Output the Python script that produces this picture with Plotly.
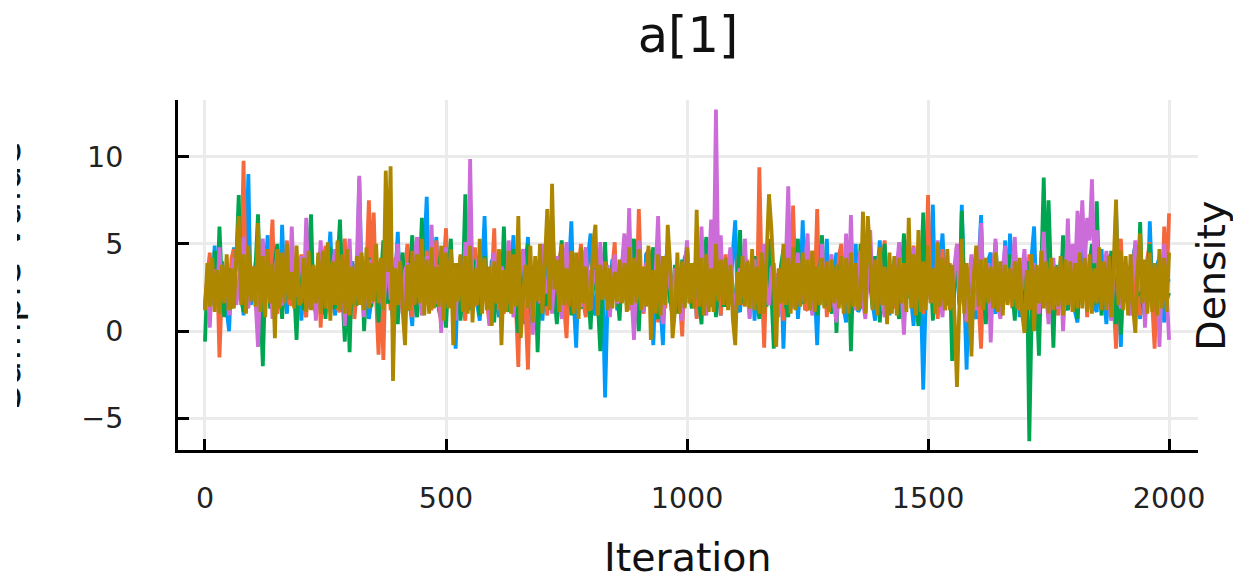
import plotly.graph_objects as go

iteration_step = 5

chain_blue = [
1.3,2.9,3.8,1.6,4.9,2.2,2.4,4.0,3.1,1.2,0.0,3.4,4.8,1.9,2.0,3.7,0.9,4.2,9.0,1.5,2.6,3.9,4.5,1.1,1.7,3.3,5.5,2.0,2.2,4.1,3.7,1.4,6.1,2.5,1.0,3.8,4.4,1.8,2.8,3.5,
0.6,3.0,3.6,1.3,5.0,2.7,1.5,4.3,4.1,1.0,2.3,3.6,5.7,1.9,0.9,3.1,3.4,1.2,4.6,2.4,1.8,4.0,3.3,1.5,8.7,2.8,2.1,3.9,0.7,1.7,4.2,3.0,2.9,1.1,1.3,4.4,3.9,2.0,0.6,3.2,
5.7,1.4,2.1,3.8,4.4,1.6,0.3,3.5,3.7,2.2,1.5,4.5,7.7,1.8,2.4,3.6,5.4,1.2,0.7,4.0,3.2,2.0,4.8,1.3,-1.0,3.3,2.5,1.1,3.9,4.2,1.2,2.7,4.7,1.5,0.6,3.4,6.6,1.9,2.3,4.1,
3.5,1.6,0.8,3.0,4.4,2.1,1.9,3.7,5.5,1.3,2.7,4.3,0.4,3.1,5.4,1.4,1.6,3.9,3.8,2.2,0.6,2.9,4.2,1.5,6.7,3.3,2.0,4.0,3.4,1.0,1.1,3.6,6.3,1.7,-0.95,3.2,4.3,1.8,2.2,4.4,
5.6,1.3,0.9,3.5,3.6,2.4,-3.8,1.6,2.7,4.1,4.0,1.2,1.5,3.8,5.0,2.3,2.1,3.4,0.4,2.8,3.8,1.1,1.3,4.4,4.6,2.0,-0.8,3.0,2.9,1.4,-0.8,3.7,4.9,1.9,0.7,3.2,3.3,1.2,1.6,4.2,
4.6,2.2,2.0,3.5,0.8,3.1,4.9,1.5,3.0,1.8,1.4,4.1,5.3,2.6,0.9,3.8,3.7,1.7,2.4,4.5,6.35,1.3,1.1,3.4,4.3,2.1,2.6,3.9,0.6,3.0,3.9,1.4,1.7,4.3,5.1,2.0,2.8,1.2,1.0,3.7,
-1.0,3.1,4.8,1.6,2.1,3.8,0.7,2.5,6.35,1.2,1.8,4.0,4.0,2.3,-0.8,3.4,3.3,1.9,5.3,1.5,1.2,3.6,4.5,2.2,2.3,1.3,0.5,3.9,3.6,2.4,5.0,1.1,1.4,3.3,2.9,4.2,4.7,1.6,0.6,3.5,
5.2,2.0,2.2,3.7,0.9,3.0,4.1,1.4,3.0,2.5,1.6,4.4,5.3,1.8,0.3,3.2,4.4,2.1,-3.35,1.7,2.4,3.6,7.25,1.3,1.1,4.0,5.6,2.6,2.0,3.3,0.6,2.8,3.7,1.5,7.25,2.3,-2.2,3.5,3.2,1.2,
0.7,3.8,6.65,1.9,2.5,4.1,4.5,1.4,1.0,3.4,3.6,2.2,5.2,1.6,5.6,2.7,1.9,3.9,0.8,3.1,4.2,1.7,2.6,4.3,6.0,1.3,0.4,3.5,3.4,2.0,4.8,1.5,1.5,3.6,2.7,4.0,4.4,1.8,1.2,3.2,
3.8,1.1,0.5,3.3,5.0,2.4,2.3,3.7,3.6,1.4,1.1,4.2,4.7,2.0,0.4,3.0,2.9,1.5,7.0,2.6,-0.9,3.4,3.5,1.7,1.8,4.1,4.9,2.2,0.7,3.6,3.1,1.3,6.3,2.5,1.4,3.8,4.2,1.9,0.5,2.7,
3.0]

chain_orange = [
1.6,3.2,4.5,1.9,2.8,3.9,-1.5,2.4,3.6,1.3,1.2,4.2,4.7,2.0,2.5,3.4,9.76,1.7,1.9,3.7,3.4,1.5,0.9,3.0,4.8,2.6,2.3,4.0,6.4,1.2,1.0,3.5,3.7,2.1,5.2,1.6,1.5,3.8,3.1,2.3,
4.4,1.4,0.8,3.3,3.0,2.0,1.6,4.1,0.2,3.6,4.9,1.8,2.1,3.2,3.8,1.3,1.1,4.3,5.3,2.5,2.6,3.7,0.7,2.2,4.0,1.5,2.2,3.5,7.5,3.1,6.8,1.9,-1.35,2.7,-1.65,3.9,3.3,1.2,1.4,4.2,
4.1,1.7,2.0,3.6,5.0,2.4,0.8,3.1,3.5,1.6,2.7,4.0,4.6,1.3,1.3,3.4,5.2,2.1,0.2,3.7,5.9,1.8,1.5,3.3,3.0,2.6,4.3,1.4,0.6,3.8,2.9,1.9,4.8,2.3,1.1,3.5,3.7,1.6,0.4,3.0,
5.9,1.2,2.4,3.6,1.0,2.8,4.6,1.7,3.3,1.5,-2.05,3.9,4.0,1.3,-2.2,3.2,3.1,2.0,1.6,4.2,4.5,2.5,0.9,3.4,3.6,1.8,2.2,4.1,4.9,1.4,-0.4,3.0,3.2,2.3,1.3,3.7,5.0,1.6,0.8,3.5,
2.6,4.0,4.4,1.9,1.5,3.3,3.9,2.2,0.9,3.6,5.1,1.4,2.3,3.8,4.0,1.7,1.2,4.3,3.3,2.1,7.0,2.7,1.0,3.1,4.7,1.5,2.8,3.9,0.5,2.4,3.7,1.3,4.9,2.0,1.6,3.4,2.9,1.8,-0.3,3.6,
4.5,1.6,2.2,3.9,0.7,2.9,3.8,1.4,1.7,4.2,5.0,2.3,2.6,3.5,0.9,3.0,4.4,1.8,3.1,2.0,1.3,3.7,5.2,1.5,2.0,4.1,0.8,2.5,3.5,1.2,9.4,2.8,-0.95,3.6,4.1,1.9,1.4,3.3,3.0,2.2,
0.6,3.8,4.3,1.7,7.2,2.6,2.1,4.0,3.7,1.3,1.2,3.4,4.6,2.3,7.0,1.5,2.4,3.9,0.8,3.1,3.9,1.8,1.5,4.3,5.0,2.1,2.7,3.5,0.3,2.9,3.4,1.4,4.5,2.4,1.1,3.6,2.5,1.9,4.0,1.2,
0.9,3.7,5.2,2.0,2.9,3.3,1.3,4.1,4.3,1.6,0.6,3.0,3.5,2.2,4.9,1.4,2.0,3.8,1.0,2.7,7.8,1.8,3.2,3.5,0.7,2.4,4.7,1.2,2.4,3.9,1.2,3.1,5.0,1.7,3.6,2.1,0.5,3.4,2.2,4.0,
4.2,1.5,-1.0,3.2,3.3,2.3,1.4,3.7,4.9,1.9,0.8,2.8,2.7,4.1,3.9,1.3,5.0,2.5,1.2,3.6,3.2,1.6,4.4,2.0,0.7,3.3,2.6,3.9,5.1,1.4,1.5,3.5,3.7,2.2,0.9,3.0,4.0,1.7,2.3,3.8,
1.1,3.4,4.6,1.9,2.5,4.0,0.8,2.6,3.8,1.5,4.9,2.2,1.3,3.6,2.8,4.3,4.3,1.7,-1.0,3.1,5.3,2.0,1.7,3.7,3.5,1.4,4.8,2.4,0.9,3.3,2.6,4.2,5.1,1.6,-1.0,3.0,3.3,1.8,6.0,2.7,
6.75]

chain_green = [
-0.6,3.0,3.2,1.5,4.6,2.0,6.0,2.7,0.8,3.6,3.5,1.3,2.1,4.1,7.8,1.8,1.1,3.3,4.4,2.2,2.6,3.8,6.7,1.6,-2.0,3.1,3.9,1.4,1.4,4.0,5.0,2.5,0.7,3.4,3.0,1.9,4.7,2.3,-0.5,3.7,
3.6,1.2,2.0,4.2,6.7,1.7,1.0,3.5,3.4,2.4,0.7,3.0,4.8,1.6,1.3,3.9,6.4,2.1,-0.6,3.2,-1.2,3.6,3.1,1.5,1.8,4.3,0.0,2.6,4.2,1.4,2.5,3.7,0.5,3.1,5.2,1.9,1.6,3.4,3.7,2.2,
0.4,3.8,4.5,1.3,1.2,3.5,5.5,2.0,0.8,3.0,6.5,1.7,2.7,4.0,3.9,1.5,1.5,3.6,4.6,2.3,0.2,3.3,5.3,1.8,2.3,3.9,0.6,2.8,7.85,1.4,1.4,4.1,3.8,2.1,0.9,3.2,4.3,1.6,2.0,3.7,
0.5,3.4,3.4,1.9,6.0,2.4,1.1,3.9,4.7,1.3,-0.1,3.1,2.8,4.2,5.0,1.7,0.3,3.5,-1.2,2.6,3.6,1.5,1.6,4.0,4.4,2.0,0.4,3.3,5.2,1.8,2.2,3.8,0.9,3.0,3.3,1.4,1.3,4.2,4.5,2.3,
0.1,3.6,2.7,1.6,-1.15,3.2,5.1,1.9,1.4,3.7,3.7,2.2,0.6,3.4,4.2,1.5,2.4,3.9,5.3,1.8,0.0,3.1,3.0,2.5,1.7,4.1,4.8,1.3,0.7,3.6,3.5,2.0,5.0,1.6,2.1,3.8,1.0,2.9,4.1,1.4,
5.0,2.3,1.3,3.5,3.2,1.7,0.4,3.9,5.4,2.1,2.3,3.4,0.8,3.0,4.6,1.5,1.5,3.7,3.9,2.4,0.9,3.2,5.8,1.6,2.6,4.0,1.2,2.8,4.3,1.9,0.7,3.6,3.5,1.4,5.3,2.2,-1.0,3.1,2.0,3.8,
4.7,1.5,0.8,3.4,3.0,2.3,5.3,1.7,1.6,3.9,4.4,2.0,2.2,3.6,0.9,3.0,5.5,1.4,3.1,2.5,1.0,3.7,-0.1,3.3,4.0,1.8,2.4,4.2,-1.15,3.5,3.6,1.6,5.0,2.1,1.2,3.9,2.8,1.3,4.3,2.6,
0.5,3.2,5.0,1.9,2.5,3.7,3.7,1.5,0.7,3.4,5.6,2.2,1.9,4.1,4.1,1.7,0.3,3.0,6.8,2.4,2.6,3.6,0.6,2.9,5.0,1.4,3.3,2.0,1.5,3.8,-1.7,3.1,4.2,1.6,6.9,2.3,0.8,3.5,3.0,1.8,
1.6,3.9,4.7,2.1,0.4,3.3,3.5,1.5,5.1,2.5,1.1,3.7,2.9,1.9,4.4,2.2,0.6,3.4,3.8,1.6,1.7,4.0,-6.3,1.2,3.0,2.3,-1.4,3.6,8.8,2.0,7.5,3.1,-0.95,3.8,2.6,1.7,5.5,2.4,1.2,3.5,
4.2,1.8,0.7,3.2,3.4,2.1,1.9,3.9,5.0,1.5,7.45,2.6,0.9,3.6,3.2,1.4,4.6,2.2,0.4,3.0,-0.2,3.4,3.7,1.7,1.5,4.1,4.9,2.0,6.25,1.6,0.8,3.3,5.0,2.4,2.3,3.8,0.6,2.9,4.2,1.8,
2.2]

chain_purple = [
1.4,2.7,0.2,3.4,3.5,1.8,4.8,2.2,1.9,3.7,0.9,3.1,4.2,1.5,2.7,4.0,5.4,2.0,1.3,3.6,3.6,1.7,-0.9,3.3,5.3,2.4,2.4,3.9,0.7,3.0,4.6,1.6,1.5,3.5,3.4,2.1,6.0,2.6,2.0,3.8,
4.3,1.9,6.5,2.3,1.6,3.4,0.6,3.0,5.2,2.7,3.0,1.5,1.1,3.7,4.7,2.0,2.4,3.6,0.3,3.2,5.3,1.7,1.8,4.1,8.9,2.5,0.8,3.4,4.1,1.6,2.7,3.9,3.5,2.1,1.2,3.0,4.6,1.8,2.1,3.7,
5.0,2.2,1.0,3.5,3.9,1.6,2.6,4.2,5.4,2.0,0.9,3.1,4.3,1.9,6.1,2.4,1.6,3.8,-0.1,2.9,4.8,1.5,2.5,3.6,0.6,3.3,3.7,2.1,5.1,1.7,9.87,2.3,1.4,3.9,4.4,1.8,2.0,3.4,0.3,3.0,
4.5,2.0,1.6,3.7,3.3,1.5,5.2,2.4,0.8,3.2,2.9,4.0,4.7,1.9,1.3,3.5,-0.2,2.7,3.8,1.6,5.0,2.2,2.4,3.9,1.0,3.1,4.3,1.7,0.7,3.4,5.1,2.0,2.2,3.6,3.6,1.5,1.4,4.1,4.8,2.3,
1.2,3.3,3.5,1.8,5.1,2.1,2.6,3.8,0.8,3.0,4.4,1.6,1.9,3.7,5.6,2.4,7.05,2.0,-0.5,3.2,5.2,1.7,1.1,3.9,3.7,2.2,2.3,3.5,6.6,1.9,0.4,3.1,4.6,2.5,1.7,3.6,3.3,1.5,0.6,3.4,
5.2,2.1,2.0,3.8,4.0,1.6,6.0,2.3,0.9,3.5,6.4,2.6,12.7,3.0,5.5,1.9,2.2,3.7,4.8,1.5,1.2,3.2,3.6,2.0,5.3,2.4,0.7,3.9,4.1,1.7,2.5,3.4,5.0,2.1,1.5,3.6,3.9,1.8,0.8,3.1,
2.4,4.0,8.3,2.2,1.3,3.5,4.5,1.6,2.7,3.8,5.6,2.0,0.9,3.3,3.5,1.9,5.0,2.3,1.8,3.7,4.4,1.5,0.5,3.0,3.2,2.5,5.6,1.8,6.65,2.1,1.2,3.6,4.6,1.7,0.7,3.4,5.8,2.4,2.1,3.9,
4.5,1.6,0.8,3.2,3.7,2.0,1.5,3.6,5.1,2.3,-0.2,3.0,2.9,1.8,4.8,2.2,1.9,2.4,2.0,2.6,2.4,1.9,1.7,2.5,5.2,2.1,0.8,3.3,3.6,1.5,1.4,3.8,5.0,2.0,2.5,3.5,0.6,2.8,4.4,1.7,
1.2,3.4,6.2,2.2,2.8,3.9,-0.65,3.0,5.3,1.6,0.7,3.6,4.9,2.1,3.0,3.7,5.4,1.8,1.6,3.3,4.7,2.4,2.4,3.8,3.8,1.5,1.0,3.5,5.7,2.2,0.4,3.1,4.2,1.9,1.3,3.7,0.0,2.7,6.45,2.3,
5.0,3.2,6.9,4.4,7.5,3.6,6.5,5.2,8.7,3.9,5.8,2.6,2.2,3.5,4.6,1.8,0.6,3.3,5.5,2.1,1.3,3.8,3.9,1.6,0.9,3.4,5.2,2.3,2.7,3.6,0.2,2.9,4.4,1.7,1.6,3.7,-0.9,3.0,5.0,2.2,
-0.5]

chain_gold = [
1.2,3.9,1.4,4.2,1.1,3.5,1.0,3.8,1.6,4.4,1.2,3.6,1.3,4.3,6.6,1.5,4.4,1.0,4.9,1.7,3.7,1.4,6.2,1.1,4.3,0.8,4.7,1.6,3.9,-0.4,4.7,1.3,4.5,1.6,5.0,1.8,3.4,1.3,4.9,1.5,
1.7,4.2,1.1,4.6,1.2,3.8,1.6,4.5,1.0,4.6,1.3,5.1,0.6,4.0,1.5,5.2,1.2,4.4,1.0,4.7,0.9,3.7,1.4,4.3,1.5,4.5,1.2,4.8,1.3,3.9,1.7,5.0,1.6,4.2,1.2,9.2,3.4,9.45,-2.85,3.6,
1.5,4.0,1.2,-0.8,3.8,1.2,4.6,1.5,4.4,1.6,5.3,0.9,4.1,1.0,4.8,1.3,3.7,1.4,4.9,0.6,4.5,1.3,4.7,-0.8,3.9,1.7,4.4,1.1,4.3,1.0,4.9,0.5,3.6,1.5,5.3,1.0,4.2,1.2,3.7,0.3,
4.0,1.6,4.7,-0.8,3.5,1.1,4.6,1.0,4.4,1.4,6.6,-0.4,2.0,3.8,1.3,4.9,0.5,4.3,1.7,5.0,1.0,3.9,7.0,1.2,8.45,2.4,4.1,1.1,5.0,1.5,3.6,1.4,4.6,1.0,4.5,0.7,4.8,1.6,3.7,1.2,
1.3,4.9,6.1,0.9,3.8,1.8,4.0,1.2,3.6,1.3,3.4,1.7,4.1,1.6,3.9,1.1,4.8,1.5,4.2,1.6,4.7,1.2,3.7,1.4,4.9,-0.5,3.5,1.0,4.4,0.9,4.3,1.5,6.1,3.8,-0.4,1.2,4.5,1.0,4.0,1.3,
4.8,1.6,3.9,1.3,6.95,1.4,4.2,0.9,4.4,1.1,3.6,1.1,5.0,1.7,4.1,1.5,4.2,1.2,3.8,0.7,-0.8,3.4,1.5,4.3,1.4,4.0,1.3,4.7,1.2,3.7,1.0,4.5,1.0,4.3,7.85,5.9,3.0,-0.9,3.6,1.6,
5.0,1.5,4.2,1.0,4.8,1.2,3.9,1.4,4.5,1.6,4.1,1.2,4.6,1.1,3.7,1.5,4.2,1.3,4.0,1.1,4.1,1.6,3.8,1.3,4.3,1.0,4.2,1.0,4.5,1.4,3.9,1.2,1.7,6.85,1.0,6.6,4.4,1.2,4.1,0.9,
4.8,1.5,3.7,0.4,4.5,1.0,4.3,0.9,4.2,1.6,3.9,1.1,6.5,1.3,4.4,0.9,5.8,1.1,4.0,1.2,4.9,1.6,3.6,1.0,5.1,1.4,4.2,1.2,4.7,1.2,3.8,0.8,-3.2,1.5,5.3,1.0,3.9,2.0,-1.45,3.2,
4.9,1.4,4.1,1.2,4.2,1.6,3.7,1.3,4.5,1.1,4.0,0.9,3.8,1.5,3.6,1.4,4.0,1.3,4.2,1.1,-0.1,3.5,1.2,4.4,0.0,3.8,1.6,4.6,1.3,4.0,1.0,4.2,1.2,3.7,1.4,4.3,0.9,4.1,1.5,4.0,
1.1,3.9,1.3,4.5,1.3,4.2,1.1,4.4,1.0,3.6,1.6,4.8,1.2,4.0,1.2,4.3,0.8,3.8,7.55,1.5,4.6,1.2,4.3,0.9,4.4,1.4,-0.1,3.7,5.6,1.6,4.1,1.0,4.5,1.1,3.9,0.9,4.7,1.3,4.2,1.1,
4.5]

chains = [
    (chain_blue, "#009AFA"),
    (chain_orange, "#F5683C"),
    (chain_green, "#00A550"),
    (chain_purple, "#CC6CD8"),
    (chain_gold, "#AE8700"),
]
x_ticks = [0, 500, 1000, 1500, 2000]
y_ticks = [-5, 0, 5, 10]

W, H = 1233, 577
L, R, T, B = 178, 1198, 100, 450.5
FONT = "DejaVu Sans"
TEXT = "#111111"

fig = go.Figure()
for values, colour in chains:
    fig.add_trace(go.Scatter(x=[iteration_step * i for i in range(len(values))], y=values, mode="lines",
                             line=dict(color=colour, width=3.8, simplify=False),
                             showlegend=False, hoverinfo="skip"))

axis_common = dict(showline=True, linecolor="#000000", linewidth=3,
                   showgrid=True, gridcolor="#EBEBEB", gridwidth=3,
                   zeroline=False, ticks="inside", ticklen=11, tickwidth=2.6,
                   tickcolor="#000000", mirror=False)
fig.update_layout(
    width=W, height=H, paper_bgcolor="white", plot_bgcolor="white",
    margin=dict(l=L, r=W - R, t=T, b=H - B, pad=0, autoexpand=False),
    showlegend=False,
    font=dict(family=FONT, color=TEXT),
    title=dict(text="a[1]", x=688 / W, xref="container", xanchor="center",
               y=1 - 35 / H, yref="container", yanchor="middle",
               font=dict(size=49.5, family=FONT, color=TEXT)),
    xaxis=dict(range=[-56, 2060], tickvals=x_ticks, ticklabelstandoff=21,
               tickfont=dict(size=28.5, family=FONT, color="#222222"), **axis_common),
    yaxis=dict(range=[-6.81, 13.25], tickvals=y_ticks, ticklabelstandoff=46,
               tickfont=dict(size=28.5, family=FONT, color="#222222"), **axis_common),
)
fig.add_annotation(text="Iteration", xref="paper", yref="paper", x=(688 - L) / (R - L),
                   y=-(558 - B) / (B - T), xanchor="center", yanchor="middle", showarrow=False,
                   font=dict(size=39.5, family=FONT, color=TEXT))
fig.add_annotation(text="Density", xref="paper", yref="paper", x=(1211 - L) / (R - L),
                   y=(B - 276) / (B - T), xanchor="center", yanchor="middle", showarrow=False,
                   textangle=-90, font=dict(size=39.5, family=FONT, color=TEXT))
fig.add_annotation(text="Sample value", xref="paper", yref="paper", x=(6 - L) / (R - L),
                   y=(B - 276) / (B - T), xanchor="center", yanchor="middle", showarrow=False,
                   textangle=-90, font=dict(size=39.5, family=FONT, color=TEXT))
# white band that crops the y-axis label on its left side, as in the reference
fig.add_annotation(text="\u00a0", xref="paper", yref="paper", x=(0 - L) / (R - L),
                   y=(B - 276) / (B - T), xanchor="left", yanchor="middle", showarrow=False,
                   width=17, height=400, bgcolor="white", borderpad=0, borderwidth=0,
                   font=dict(size=10))

fig.write_html("out.html", config=dict(displayModeBar=False),
               post_script="document.body.style.margin='0';document.body.style.overflow='hidden';")
